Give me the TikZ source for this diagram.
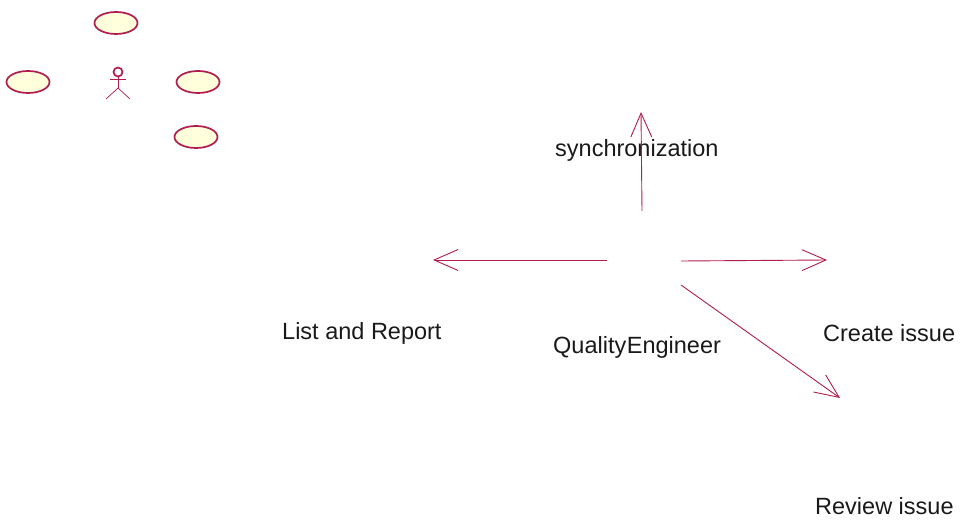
\documentclass[tikz,border=0pt]{standalone}
\usepackage{fontspec}
\setmainfont{Liberation Sans}
\usetikzlibrary{arrows.meta}
\usetikzlibrary{shapes.geometric}
\definecolor{lineColor}{RGB}{176,28,78}
\definecolor{caseColor}{RGB}{255,255,219}
\tikzstyle{diagram} = [x = 1pt, y = -1pt]
\tikzstyle{caseStyle} = [ellipse, draw=lineColor, fill=caseColor, line width=1.7pt, minimum width=43pt, minimum height=22pt, inner sep=0pt]
\tikzstyle{actorLine} = [color=lineColor, line width=.7pt]
\tikzstyle{linkLine} = [color=lineColor, line width=.9pt, -{Straight Barb[length=24pt, width=21pt, line width=.9pt]}]
\tikzstyle{labelText} = [anchor=base west, inner sep=0pt, font=\fontsize{23.5}{26}\selectfont, text=black!90]
\newcommand{\useCase}[3]{\node [caseStyle] (#1) at (#2, #3) {};}
\begin{document}
\begin{tikzpicture}[diagram]
  \useasboundingbox (0,0) rectangle (962,521);
  \useCase{caseTop}{116}{23}
  \useCase{caseLeft}{28}{82}
  \useCase{caseRight}{198}{82}
  \useCase{caseLow}{196}{137}

  % small actor
  \node [circle, draw=lineColor, line width=1.7pt, minimum size=9pt, inner sep=0pt] (actorHead) at (118, 72) {};
  \coordinate (actorHip) at (118, 88);
  \coordinate (armLeft) at (110, 79);
  \coordinate (armRight) at (126, 79);
  \coordinate (footLeft) at (106, 99);
  \coordinate (footRight) at (130, 99);
  \draw [actorLine] (actorHead) -- (actorHip);
  \draw [actorLine] (armLeft) -- (armRight);
  \draw [actorLine] (footLeft) -- (actorHip) -- (footRight);

  \node [labelText] (syncLabel) at (555, 157) {synchronization};
  \node [labelText] (listLabel) at (282, 340) {List and Report};
  \node [labelText] (qualityLabel) at (553, 354) {Quality\kern-6pt\ Engineer};
  \node [labelText] (createLabel) at (823, 342) {Create issue};
  \node [labelText] (reviewLabel) at (815, 514) {Review issue};

  \coordinate (fromTop) at (642, 211);
  \coordinate (toTop) at (641, 112);
  \coordinate (fromLeft) at (607, 260);
  \coordinate (toLeft) at (433, 260);
  \coordinate (fromRight) at (681, 261);
  \coordinate (toRight) at (827, 260);
  \coordinate (fromLow) at (681, 285);
  \coordinate (toLow) at (840, 398);
  \draw [linkLine] (fromTop) -- (toTop);
  \draw [linkLine] (fromLeft) -- (toLeft);
  \draw [linkLine] (fromRight) -- (toRight);
  \draw [linkLine] (fromLow) -- (toLow);
\end{tikzpicture}
\end{document}
